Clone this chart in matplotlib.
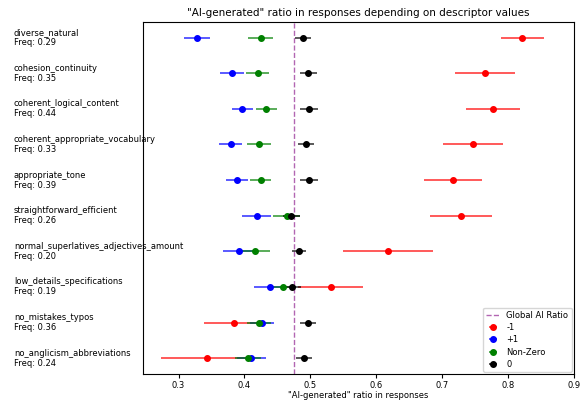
import matplotlib
matplotlib.use("Agg")
import matplotlib.pyplot as plt
import matplotlib.transforms as mtransforms

descriptors = ["diverse_natural", "cohesion_continuity", "coherent_logical_content",
               "coherent_appropriate_vocabulary", "appropriate_tone", "straightforward_efficient",
               "normal_superlatives_adjectives_amount", "low_details_specifications",
               "no_mistakes_typos", "no_anglicism_abbreviations"]
freqs = [0.29, 0.35, 0.44, 0.33, 0.39, 0.26, 0.20, 0.19, 0.36, 0.24]

neg_mean = [0.822, 0.765, 0.777, 0.747, 0.716, 0.729, 0.618, 0.531, 0.384, 0.343]
neg_err = [0.033, 0.045, 0.041, 0.045, 0.044, 0.047, 0.068, 0.049, 0.045, 0.070]
pos_mean = [0.328, 0.381, 0.397, 0.379, 0.389, 0.419, 0.391, 0.439, 0.427, 0.410]
pos_err = [0.020, 0.018, 0.016, 0.018, 0.017, 0.022, 0.023, 0.025, 0.018, 0.022]
nz_mean = [0.425, 0.420, 0.433, 0.422, 0.425, 0.464, 0.416, 0.458, 0.422, 0.405]
nz_err = [0.019, 0.017, 0.016, 0.018, 0.016, 0.020, 0.023, 0.020, 0.018, 0.020]
zero_mean = [0.489, 0.497, 0.498, 0.493, 0.498, 0.471, 0.483, 0.472, 0.497, 0.490]
zero_err = [0.012, 0.013, 0.013, 0.012, 0.013, 0.013, 0.011, 0.014, 0.012, 0.012]
global_ratio = 0.475

series = [("-1", neg_mean, neg_err, "red"),
          ("+1", pos_mean, pos_err, "blue"),
          ("Non-Zero", nz_mean, nz_err, "green"),
          ("0", zero_mean, zero_err, "black")]

plt.rcParams["font.size"] = 6
fig = plt.figure(figsize=(5.82, 4.01), dpi=100)
ax = fig.add_axes([0.2457, 0.067, 0.986 - 0.2457, 0.946 - 0.067])

ypos = list(range(len(descriptors)))
ax.axvline(global_ratio, color="purple", linestyle="--", lw=1, alpha=0.6, label="Global AI Ratio")
for name, m, e, c in series:
    eb = ax.errorbar(m, ypos, xerr=e, fmt="o", color=c, ms=4, elinewidth=1.4, capsize=0, label=name)
    for lc in eb[2]:
        lc.set_alpha(0.65)

ax.set_xlim(0.246, 0.9)
ax.invert_yaxis()
ax.set_yticks([])
ax.set_xticks([0.3, 0.4, 0.5, 0.6, 0.7, 0.8, 0.9])
ax.set_xticklabels(["0.3", "0.4", "0.5", "0.6", "0.7", "0.8", "0.9"])
ax.tick_params(axis="x", labelsize=6, length=3, pad=2)
ax.set_xlabel('"AI-generated" ratio in responses', fontsize=6, labelpad=1)
ax.set_title('"AI-generated" ratio in responses depending on descriptor values', fontsize=7.5, pad=4)

trans = mtransforms.blended_transform_factory(fig.transFigure, ax.transData)
for i, (d, f) in enumerate(zip(descriptors, freqs)):
    fig.text(14 / 582, i, f"{d}\nFreq: {f:.2f}", transform=trans, ha="left", va="center",
             fontsize=6, linespacing=1.15)

ax.legend(loc="lower right", fontsize=6, framealpha=0.8, labelspacing=0.38,
          handlelength=1.6, borderaxespad=0.25)
fig.savefig("out.png", dpi=100)
